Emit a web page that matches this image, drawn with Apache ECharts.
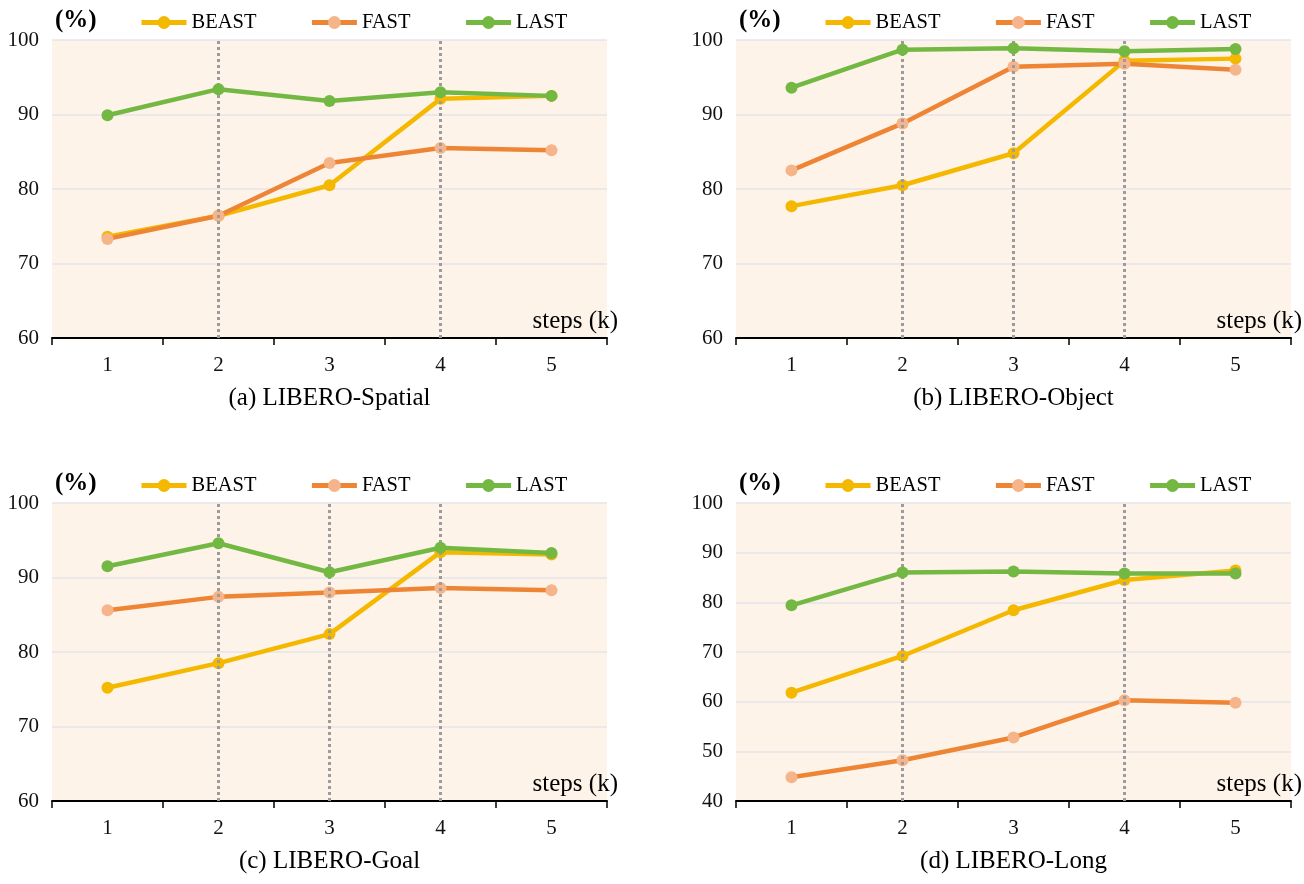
<!DOCTYPE html>
<html>
<head>
<meta charset="utf-8">
<script src="https://cdn.jsdelivr.net/npm/echarts@6/dist/echarts.min.js"></script>
<style>html,body{margin:0;padding:0;background:#fff;}#c{width:1304px;height:884px;}</style>
</head>
<body>
<div id="c"></div>
<script>
const steps = ['1', '2', '3', '4', '5'];
const seriesNames = ['BEAST', 'FAST', 'LAST'];

// (a) LIBERO-Spatial
const beastSpatial = [73.6, 76.4, 80.5, 92.1, 92.5];
const fastSpatial  = [73.3, 76.4, 83.5, 85.5, 85.2];
const lastSpatial  = [89.9, 93.4, 91.8, 93.0, 92.5];
// (b) LIBERO-Object
const beastObject = [77.7, 80.5, 84.8, 97.2, 97.5];
const fastObject  = [82.5, 88.8, 96.4, 96.8, 96.0];
const lastObject  = [93.6, 98.7, 98.9, 98.5, 98.8];
// (c) LIBERO-Goal
const beastGoal = [75.2, 78.5, 82.4, 93.4, 93.1];
const fastGoal  = [85.6, 87.4, 88.0, 88.6, 88.3];
const lastGoal  = [91.5, 94.6, 90.7, 94.0, 93.3];
// (d) LIBERO-Long
const beastLong = [61.8, 69.2, 78.4, 84.5, 86.4];
const fastLong  = [44.8, 48.2, 52.8, 60.3, 59.8];
const lastLong  = [79.4, 86.0, 86.2, 85.8, 85.8];

// dotted guide positions per panel
const guidesSpatial = ['2', '4'];
const guidesObject  = ['2', '3', '4'];
const guidesGoal    = ['2', '3', '4'];
const guidesLong    = ['2', '4'];

const captions = ['(a) LIBERO-Spatial', '(b) LIBERO-Object', '(c) LIBERO-Goal', '(d) LIBERO-Long'];
const yMins = [60, 60, 60, 40];
const yMax = 100;
const yInterval = 10;

const panels = [
  {b: beastSpatial, f: fastSpatial, l: lastSpatial, g: guidesSpatial},
  {b: beastObject,  f: fastObject,  l: lastObject,  g: guidesObject},
  {b: beastGoal,    f: fastGoal,    l: lastGoal,    g: guidesGoal},
  {b: beastLong,    f: fastLong,    l: lastLong,    g: guidesLong}
];

const FONT = '"Liberation Serif", "Times New Roman", serif';
const colBeast = '#F4B800';
const colFast = '#EE8535';
const colFastMarker = '#F5B48A';
const colLast = '#73B843';

const gx = [52, 736];
const gy = [40, 503];
const gw = 555;
const gh = 298;

const grids = [], xAxes = [], yAxes = [], series = [], legends = [], graphics = [];
for (let i = 0; i < 4; i++) {
  const col = i % 2, row = Math.floor(i / 2);
  const left = gx[col], top = gy[row];
  grids.push({left: left, top: top, width: gw, height: gh, show: true,
    backgroundColor: '#FDF3E9', borderWidth: 0, containLabel: false});
  xAxes.push({type: 'category', gridIndex: i, data: steps, boundaryGap: true,
    axisLine: {show: true, lineStyle: {color: '#000', width: 2}},
    axisTick: {show: true, interval: 0, length: 7, lineStyle: {color: '#000', width: 1.5}},
    axisLabel: {fontFamily: FONT, fontSize: 21, color: '#111', margin: 17},
    splitLine: {show: false}});
  yAxes.push({type: 'value', gridIndex: i, min: yMins[i], max: yMax, interval: yInterval,
    axisLine: {show: false}, axisTick: {show: false},
    axisLabel: {fontFamily: FONT, fontSize: 21, color: '#111', margin: 13},
    splitLine: {show: true, lineStyle: {color: '#E6E5EA', width: 1.5}}});
  const p = panels[i];
  series.push({type: 'line', name: '_guides', xAxisIndex: i, yAxisIndex: i, data: [], z: 1,
    silent: true,
    markLine: {silent: true, symbol: ['none', 'none'], label: {show: false},
      lineStyle: {color: '#9C9C9C', width: 3, type: [3, 3]},
      emphasis: {disabled: true},
      data: p.g.map(v => ({xAxis: v}))}});
  series.push({type: 'line', name: 'BEAST', xAxisIndex: i, yAxisIndex: i, data: p.b, z: 3,
    symbol: 'circle', symbolSize: 12, showAllSymbol: true,
    lineStyle: {color: colBeast, width: 4.5}, itemStyle: {color: colBeast}});
  series.push({type: 'line', name: 'FAST', xAxisIndex: i, yAxisIndex: i, data: p.f, z: 4,
    symbol: 'circle', symbolSize: 12, showAllSymbol: true,
    lineStyle: {color: colFast, width: 4.5}, itemStyle: {color: colFastMarker}});
  series.push({type: 'line', name: 'LAST', xAxisIndex: i, yAxisIndex: i, data: p.l, z: 5,
    symbol: 'circle', symbolSize: 12, showAllSymbol: true,
    lineStyle: {color: colLast, width: 4.5}, itemStyle: {color: colLast}});
  legends.push({data: seriesNames, left: left + 82, top: top - 33, itemWidth: 45, itemHeight: 16,
    itemGap: 53, selectedMode: false,
    lineStyle: {width: 5},
    textStyle: {fontFamily: FONT, fontSize: 20.5, color: '#000'}});
  graphics.push({type: 'text', x: left + 3, y: top - 19,
    style: {text: '(%)', font: 'bold 25px ' + FONT, fill: '#000', align: 'left', verticalAlign: 'middle'}});
  graphics.push({type: 'text', x: left + gw + 11, y: top + gh - 17,
    style: {text: 'steps (k)', font: '25px ' + FONT, fill: '#000', align: 'right', verticalAlign: 'middle'}});
  graphics.push({type: 'text', x: left + gw / 2, y: top + gh + 60,
    style: {text: captions[i], font: '25px ' + FONT, fill: '#000', align: 'center', verticalAlign: 'middle'}});
}

const chart = echarts.init(document.getElementById('c'), null, {renderer: 'canvas'});
chart.setOption({
  animation: false,
  backgroundColor: '#fff',
  grid: grids, xAxis: xAxes, yAxis: yAxes, series: series, legend: legends, graphic: graphics
});
</script>
</body>
</html>
